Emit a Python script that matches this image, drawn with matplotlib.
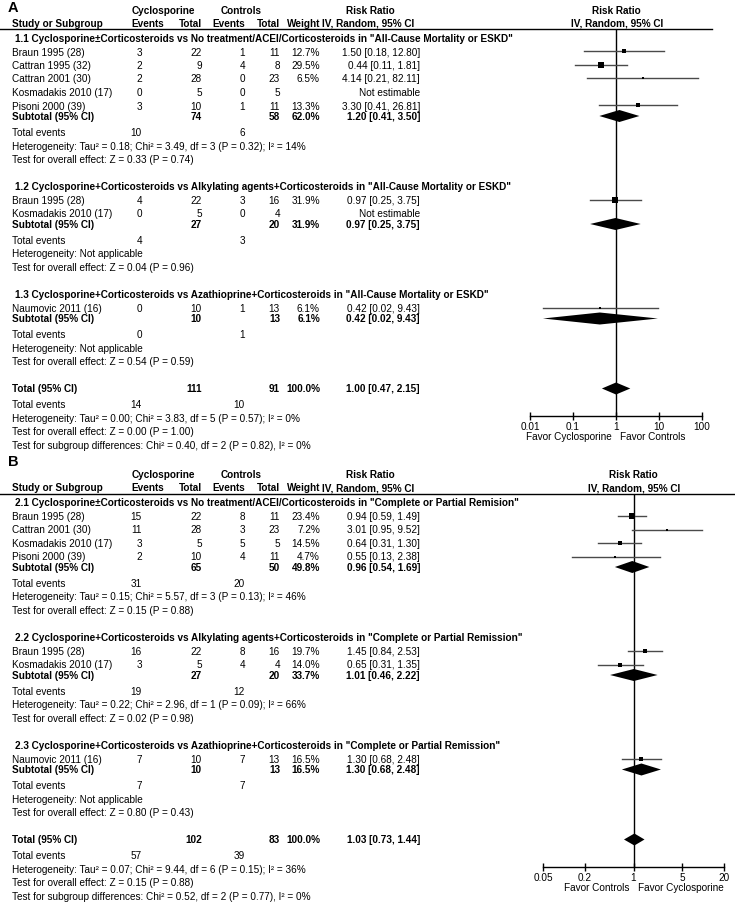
import numpy as np
import matplotlib
matplotlib.use('Agg')
import matplotlib.pyplot as plt
from matplotlib.ticker import NullLocator

plt.rcParams['font.family'] = ['Liberation Sans', 'DejaVu Sans']
FS = 7.2
plt.rcParams['font.size'] = FS

W, H = 735, 903

# --- Panel A: All-Cause Mortality or ESKD
A_GROUPS = ['1.1 Cyclosporine±Corticosteroids vs No treatment/ACEI/Corticosteroids in "All-Cause Mortality or ESKD"',
            '1.2 Cyclosporine+Corticosteroids vs Alkylating agents+Corticosteroids in "All-Cause Mortality or ESKD"',
            '1.3 Cyclosporine+Corticosteroids vs Azathioprine+Corticosteroids in "All-Cause Mortality or ESKD"']
A_STUDIES = [['Braun 1995 (28)', 'Cattran 1995 (32)', 'Cattran 2001 (30)', 'Kosmadakis 2010 (17)', 'Pisoni 2000 (39)'],
             ['Braun 1995 (28)', 'Kosmadakis 2010 (17)'],
             ['Naumovic 2011 (16)']]
A_CYC_EV = [[3, 2, 2, 0, 3], [4, 0], [0]]
A_CYC_N = [[22, 9, 28, 5, 10], [22, 5], [10]]
A_CON_EV = [[1, 4, 0, 0, 1], [3, 0], [1]]
A_CON_N = [[11, 8, 23, 5, 11], [16, 4], [13]]
A_WEIGHT = [[12.7, 29.5, 6.5, None, 13.3], [31.9, None], [6.1]]
A_RR = [[1.50, 0.44, 4.14, None, 3.30], [0.97, None], [0.42]]
A_LO = [[0.18, 0.11, 0.21, None, 0.41], [0.25, None], [0.02]]
A_HI = [[12.80, 1.81, 82.11, None, 26.81], [3.75, None], [9.43]]
A_SUB_W = [62.0, 31.9, 6.1]
A_SUB_RR = [1.20, 0.97, 0.42]
A_SUB_LO = [0.41, 0.25, 0.02]
A_SUB_HI = [3.50, 3.75, 9.43]
A_HET = ['Heterogeneity: Tau² = 0.18; Chi² = 3.49, df = 3 (P = 0.32); I² = 14%',
         'Heterogeneity: Not applicable', 'Heterogeneity: Not applicable']
A_Z = ['Test for overall effect: Z = 0.33 (P = 0.74)',
       'Test for overall effect: Z = 0.04 (P = 0.96)',
       'Test for overall effect: Z = 0.54 (P = 0.59)']
A_TOT = [1.00, 0.47, 2.15]
A_TOT_HET = 'Heterogeneity: Tau² = 0.00; Chi² = 3.83, df = 5 (P = 0.57); I² = 0%'
A_TOT_Z = 'Test for overall effect: Z = 0.00 (P = 1.00)'
A_SUBGRP = 'Test for subgroup differences: Chi² = 0.40, df = 2 (P = 0.82), I² = 0%'
A_TICKS = [0.01, 0.1, 1, 10, 100]
A_TICK_LABELS = ['0.01', '0.1', '1', '10', '100']
A_FAVOR = ['Favor Cyclosporine', 'Favor Controls']

# --- Panel B: Complete or Partial Remission
B_GROUPS = ['2.1 Cyclosporine±Corticosteroids vs No treatment/ACEI/Corticosteroids in "Complete or Partial Remision"',
            '2.2 Cyclosporine+Corticosteroids vs Alkylating agents+Corticosteroids in "Complete or Partial Remission"',
            '2.3 Cyclosporine+Corticosteroids vs Azathioprine+Corticosteroids in "Complete or Partial Remission"']
B_STUDIES = [['Braun 1995 (28)', 'Cattran 2001 (30)', 'Kosmadakis 2010 (17)', 'Pisoni 2000 (39)'],
             ['Braun 1995 (28)', 'Kosmadakis 2010 (17)'],
             ['Naumovic 2011 (16)']]
B_CYC_EV = [[15, 11, 3, 2], [16, 3], [7]]
B_CYC_N = [[22, 28, 5, 10], [22, 5], [10]]
B_CON_EV = [[8, 3, 5, 4], [8, 4], [7]]
B_CON_N = [[11, 23, 5, 11], [16, 4], [13]]
B_WEIGHT = [[23.4, 7.2, 14.5, 4.7], [19.7, 14.0], [16.5]]
B_RR = [[0.94, 3.01, 0.64, 0.55], [1.45, 0.65], [1.30]]
B_LO = [[0.59, 0.95, 0.31, 0.13], [0.84, 0.31], [0.68]]
B_HI = [[1.49, 9.52, 1.30, 2.38], [2.53, 1.35], [2.48]]
B_SUB_W = [49.8, 33.7, 16.5]
B_SUB_RR = [0.96, 1.01, 1.30]
B_SUB_LO = [0.54, 0.46, 0.68]
B_SUB_HI = [1.69, 2.22, 2.48]
B_HET = ['Heterogeneity: Tau² = 0.15; Chi² = 5.57, df = 3 (P = 0.13); I² = 46%',
         'Heterogeneity: Tau² = 0.22; Chi² = 2.96, df = 1 (P = 0.09); I² = 66%',
         'Heterogeneity: Not applicable']
B_Z = ['Test for overall effect: Z = 0.15 (P = 0.88)',
       'Test for overall effect: Z = 0.02 (P = 0.98)',
       'Test for overall effect: Z = 0.80 (P = 0.43)']
B_TOT = [1.03, 0.73, 1.44]
B_TOT_HET = 'Heterogeneity: Tau² = 0.07; Chi² = 9.44, df = 6 (P = 0.15); I² = 36%'
B_TOT_Z = 'Test for overall effect: Z = 0.15 (P = 0.88)'
B_SUBGRP = 'Test for subgroup differences: Chi² = 0.52, df = 2 (P = 0.77), I² = 0%'
B_TICKS = [0.05, 0.2, 1, 5, 20]
B_TICK_LABELS = ['0.05', '0.2', '1', '5', '20']
B_FAVOR = ['Favor Controls', 'Favor Cyclosporine']

# column x positions (pixels)
X_STUDY, X_GROUP = 12, 15
X_CE, X_CT, X_KE, X_KT, X_W, X_RR = 142, 202, 245, 280, 320, 420

fig = plt.figure(figsize=(W / 100, H / 100), dpi=100)
tab = fig.add_axes([0, 0, 1, 1])
tab.set_xlim(0, W)
tab.set_ylim(H, 0)
tab.axis('off')


def put(x, y, s, ha='left', bold=False, size=FS):
    tab.text(x, y, s, ha=ha, va='center', fontsize=size,
             fontweight='bold' if bold else 'normal')


def ci_text(rr, lo, hi):
    if rr is None:
        return 'Not estimable'
    return f'{rr:.2f} [{lo:.2f}, {hi:.2f}]'


def box_px(w):
    return max(2.6, 1.05 * np.sqrt(w))


def draw_panel(p, y0, letter, letter_y, px_lo, px_hi, line_right):
    # header
    put(8, letter_y, letter, bold=True, size=10.5)
    put(163, y0, 'Cyclosporine', ha='center', bold=True)
    put(241, y0, 'Controls', ha='center', bold=True)
    put(370, y0, 'Risk Ratio', ha='center', bold=True)
    y2 = y0 + 13.5
    put(X_STUDY, y2, 'Study or Subgroup', bold=True)
    put(148, y2, 'Events', ha='center', bold=True)
    put(X_CT, y2, 'Total', ha='right', bold=True)
    put(X_KE, y2, 'Events', ha='right', bold=True)
    put(X_KT, y2, 'Total', ha='right', bold=True)
    put(X_W, y2, 'Weight', ha='right', bold=True)
    put(368, y2, 'IV, Random, 95% CI', ha='center', bold=True)
    xc = (px_lo + px_hi) / 2
    put(xc, y0, 'Risk Ratio', ha='center', bold=True)
    put(xc + 1, y2, 'IV, Random, 95% CI', ha='center', bold=True)
    line_y = y0 + 19.5
    tab.plot([0, line_right], [line_y, line_y], color='black', lw=1)

    # row positions
    y = y0 + 28
    rows = []
    for names in p['studies']:
        head = y
        st = [head + 14 + i * 13.5 for i in range(len(names))]
        sub = st[-1] + 10.5
        ev = sub + 16
        rows.append((head, st, sub, ev))
        y = ev + 54
    tot_y = y
    axis_y = tot_y + 27

    ax = fig.add_axes([px_lo / W, 1 - axis_y / H, (px_hi - px_lo) / W, (axis_y - line_y) / H])
    ax.set_xscale('log')
    ax.set_xlim(p['ticks'][0], p['ticks'][-1])
    ax.set_ylim(axis_y, line_y)
    ax.patch.set_alpha(0)
    for s in ['top', 'left', 'right']:
        ax.spines[s].set_visible(False)
    ax.spines['bottom'].set_linewidth(1)
    ax.set_yticks([])
    ax.set_xticks(p['ticks'])
    ax.set_xticklabels(p['tick_labels'])
    ax.xaxis.set_minor_locator(NullLocator())
    ax.tick_params(axis='x', direction='inout', length=6, width=1, pad=1, labelsize=FS)
    ax.axvline(1, color='black', lw=1, zorder=1)

    def diamond(rr, lo, hi, yy):
        ax.fill([lo, rr, hi, rr], [yy, yy - 6, yy, yy + 6], color='black', lw=0, zorder=3)

    sum_ce = sum_ct = sum_ke = sum_kt = 0
    for g, (head, st, sub, ev) in enumerate(rows):
        put(X_GROUP, head, p['groups'][g], bold=True)
        for i, yy in enumerate(st):
            put(X_STUDY, yy, p['studies'][g][i])
            put(X_CE, yy, str(p['cyc_ev'][g][i]), ha='right')
            put(X_CT, yy, str(p['cyc_n'][g][i]), ha='right')
            put(X_KE, yy, str(p['con_ev'][g][i]), ha='right')
            put(X_KT, yy, str(p['con_n'][g][i]), ha='right')
            w = p['weight'][g][i]
            if w is not None:
                put(X_W, yy, f'{w:.1f}%', ha='right')
            rr, lo, hi = p['rr'][g][i], p['lo'][g][i], p['hi'][g][i]
            put(X_RR, yy, ci_text(rr, lo, hi), ha='right')
            if rr is not None:
                ax.plot([lo, hi], [yy, yy], color='#4a4a4a', lw=1, zorder=2)
                ax.plot([rr], [yy], marker='s', ms=box_px(w) * 0.72, mew=0,
                        color='black', zorder=4)
        ce, ct = sum(p['cyc_ev'][g]), sum(p['cyc_n'][g])
        ke, kt = sum(p['con_ev'][g]), sum(p['con_n'][g])
        sum_ce += ce; sum_ct += ct; sum_ke += ke; sum_kt += kt
        put(X_STUDY, sub, 'Subtotal (95% CI)', bold=True)
        put(X_CT, sub, str(ct), ha='right', bold=True)
        put(X_KT, sub, str(kt), ha='right', bold=True)
        put(X_W, sub, f"{p['sub_w'][g]:.1f}%", ha='right', bold=True)
        put(X_RR, sub, ci_text(p['sub_rr'][g], p['sub_lo'][g], p['sub_hi'][g]), ha='right', bold=True)
        diamond(p['sub_rr'][g], p['sub_lo'][g], p['sub_hi'][g], sub)
        put(X_STUDY, ev, 'Total events')
        put(X_CE, ev, str(ce), ha='right')
        put(X_KE, ev, str(ke), ha='right')
        put(X_STUDY, ev + 13.5, p['het'][g])
        put(X_STUDY, ev + 27, p['z'][g])

    rr, lo, hi = p['tot']
    put(X_STUDY, tot_y, 'Total (95% CI)', bold=True)
    put(X_CT, tot_y, str(sum_ct), ha='right', bold=True)
    put(X_KT, tot_y, str(sum_kt), ha='right', bold=True)
    put(X_W, tot_y, f'{sum(p["sub_w"]):.1f}%', ha='right', bold=True)
    put(X_RR, tot_y, ci_text(rr, lo, hi), ha='right', bold=True)
    diamond(rr, lo, hi, tot_y)
    te = tot_y + 16
    put(X_STUDY, te, 'Total events')
    put(X_CE, te, str(sum_ce), ha='right')
    put(X_KE, te, str(sum_ke), ha='right')
    put(X_STUDY, te + 13.5, p['tot_het'])
    put(X_STUDY, te + 27, p['tot_z'])
    put(X_STUDY, te + 40.5, p['subgrp'])

    # favour labels either side of RR = 1
    ax.annotate(p['favor'][0], xy=(1, 0), xycoords=('data', 'axes fraction'),
                xytext=(-3.3, -15), textcoords='offset points', ha='right', va='center', fontsize=FS)
    ax.annotate(p['favor'][1], xy=(1, 0), xycoords=('data', 'axes fraction'),
                xytext=(3, -15), textcoords='offset points', ha='left', va='center', fontsize=FS)


panel_a = dict(groups=A_GROUPS, studies=A_STUDIES, cyc_ev=A_CYC_EV, cyc_n=A_CYC_N,
               con_ev=A_CON_EV, con_n=A_CON_N, weight=A_WEIGHT, rr=A_RR, lo=A_LO, hi=A_HI,
               sub_w=A_SUB_W, sub_rr=A_SUB_RR, sub_lo=A_SUB_LO, sub_hi=A_SUB_HI,
               het=A_HET, z=A_Z, tot=A_TOT, tot_het=A_TOT_HET, tot_z=A_TOT_Z, subgrp=A_SUBGRP,
               ticks=A_TICKS, tick_labels=A_TICK_LABELS, favor=A_FAVOR)
panel_b = dict(groups=B_GROUPS, studies=B_STUDIES, cyc_ev=B_CYC_EV, cyc_n=B_CYC_N,
               con_ev=B_CON_EV, con_n=B_CON_N, weight=B_WEIGHT, rr=B_RR, lo=B_LO, hi=B_HI,
               sub_w=B_SUB_W, sub_rr=B_SUB_RR, sub_lo=B_SUB_LO, sub_hi=B_SUB_HI,
               het=B_HET, z=B_Z, tot=B_TOT, tot_het=B_TOT_HET, tot_z=B_TOT_Z, subgrp=B_SUBGRP,
               ticks=B_TICKS, tick_labels=B_TICK_LABELS, favor=B_FAVOR)

draw_panel(panel_a, 10.5, 'A', 8, 530, 702, 712)
draw_panel(panel_b, 475, 'B', 462, 543, 724, 735)

fig.savefig('out.png', dpi=100, facecolor='white')
